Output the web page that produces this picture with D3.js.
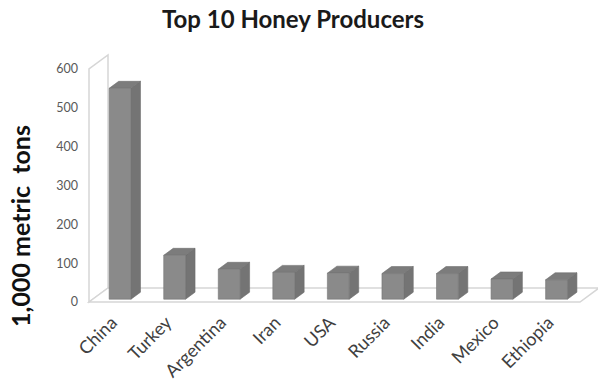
<!DOCTYPE html>
<html>
<head>
<meta charset="utf-8">
<script src="https://cdn.jsdelivr.net/npm/d3@7"></script>
<style>
  html, body { margin: 0; padding: 0; background: #fff; }
  svg { display: block; font-family: Lato, "Open Sans", sans-serif; }
</style>
</head>
<body>
<svg id="chart" width="598" height="382"></svg>
<script>
// Honey production, thousands of metric tons
const countries = ["China", "Turkey", "Argentina", "Iran", "USA", "Russia", "India", "Mexico", "Ethiopia"];
const production = [543, 113, 77, 69, 67, 66, 66, 52, 50];
const yTicks = [0, 100, 200, 300, 400, 500, 600];

const svg = d3.select("#chart");

// Front plane of the 3-D box, plus an oblique depth vector
const x0 = 89, x1 = 580;
const depth = { dx: 19, dy: -14 };
const x = d3.scaleBand().domain(countries).range([x0, x1]).paddingInner(0).paddingOuter(0);
const y = d3.scaleLinear().domain([0, 600]).range([302, 69]);

const P = (px, py, d) => [px + depth.dx * d, py + depth.dy * d];
const poly = pts => "M" + pts.map(p => p.join(",")).join("L") + "Z";

const wallStroke = "#d6d6d6";

// Side wall
svg.append("path")
  .attr("d", poly([P(x0, y(0), 0), P(x0, y(600), 0), P(x0, y(600), 1), P(x0, y(0), 1)]))
  .attr("fill", "#fff").attr("stroke", wallStroke).attr("stroke-width", 1.5);

// Floor
svg.append("path")
  .attr("d", poly([P(x0, y(0), 0), P(x1, y(0), 0), P(x1, y(0), 1), P(x0, y(0), 1)]))
  .attr("fill", "#fff").attr("stroke", wallStroke).attr("stroke-width", 1.5);

// Bars: each is a box from depth d0 to d1
const d0 = 0.2, d1 = 0.7;
const barFrac = 0.4;
const bars = svg.append("g");
countries.forEach((c, i) => {
  const v = production[i];
  const bw = x.bandwidth() * barFrac;
  const left = x(c) + (x.bandwidth() - bw) / 2;
  const right = left + bw;
  const top = y(v), base = y(0);
  const g = bars.append("g");
  // right side face
  g.append("path")
    .attr("d", poly([P(right, base, d0), P(right, top, d0), P(right, top, d1), P(right, base, d1)]))
    .attr("fill", "#747474").attr("stroke", "#6e6e6e").attr("stroke-width", 0.6);
  // top face
  g.append("path")
    .attr("d", poly([P(left, top, d0), P(right, top, d0), P(right, top, d1), P(left, top, d1)]))
    .attr("fill", "#7c7c7c").attr("stroke", "#6e6e6e").attr("stroke-width", 0.6);
  // front face
  g.append("path")
    .attr("d", poly([P(left, base, d0), P(left, top, d0), P(right, top, d0), P(right, base, d0)]))
    .attr("fill", "#8a8a8a").attr("stroke", "#767676").attr("stroke-width", 0.6);
});

// Value axis labels
svg.append("g").selectAll("text").data(yTicks).join("text")
  .attr("x", 78).attr("y", d => y(d)).attr("dy", "0.35em")
  .attr("text-anchor", "end").attr("font-size", 12.5).attr("fill", "#595959")
  .text(d => d);

// Category labels, rotated
svg.append("g").selectAll("text").data(countries).join("text")
  .attr("transform", d => `translate(${x(d) + x.bandwidth() / 2 + 2},${324}) rotate(-45)`)
  .attr("text-anchor", "end").attr("font-size", 18).attr("fill", "#404040")
  .text(d => d);

// Title
svg.append("text")
  .attr("x", 293).attr("y", 28).attr("text-anchor", "middle")
  .attr("font-size", 24).attr("font-weight", "bold").attr("fill", "#1a1a1a")
  .text("Top 10 Honey Producers");

// Value axis title
svg.append("text")
  .attr("transform", "translate(30,226) rotate(-90)")
  .attr("text-anchor", "middle").attr("font-size", 25).attr("font-weight", "bold").attr("fill", "#111")
  .attr("xml:space", "preserve")
  .text("1,000 metric  tons");
</script>
</body>
</html>
